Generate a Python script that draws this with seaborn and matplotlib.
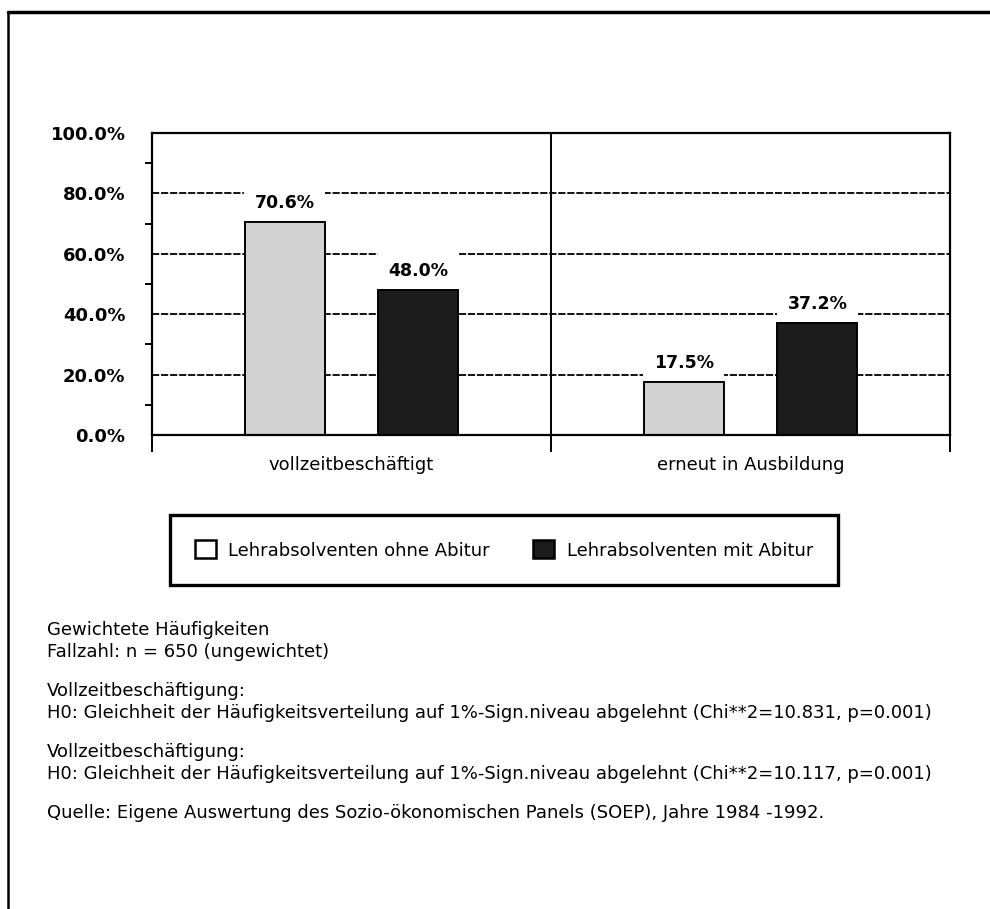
import pandas as pd
import matplotlib.pyplot as plt
import seaborn as sns
from matplotlib.lines import Line2D
from matplotlib.patches import Patch
from matplotlib.ticker import FixedLocator, FuncFormatter

# data
categories = ["vollzeitbeschäftigt", "erneut in Ausbildung"]
groups = ["Lehrabsolventen ohne Abitur", "Lehrabsolventen mit Abitur"]
values_ohne = [70.6, 17.5]
values_mit = [48.0, 37.2]
y_ticks = [0, 20, 40, 60, 80, 100]

notes = [
    "Gewichtete Häufigkeiten",
    "Fallzahl: n = 650 (ungewichtet)",
    "Vollzeitbeschäftigung:",
    "H0: Gleichheit der Häufigkeitsverteilung auf 1%-Sign.niveau abgelehnt (Chi**2=10.831, p=0.001)",
    "Vollzeitbeschäftigung:",
    "H0: Gleichheit der Häufigkeitsverteilung auf 1%-Sign.niveau abgelehnt (Chi**2=10.117, p=0.001)",
    "Quelle: Eigene Auswertung des Sozio-ökonomischen Panels (SOEP), Jahre 1984 -1992.",
]
# pixel rows of the note lines (layout only)
note_rows = [630, 652, 691, 713, 752, 774, 813]

df = pd.DataFrame({
    "Kategorie": categories * 2,
    "Gruppe": [groups[0]] * 2 + [groups[1]] * 2,
    "Anteil": values_ohne + values_mit,
})

sns.set_style("white")
plt.rcParams["font.family"] = ["DejaVu Sans"]
plt.rcParams["text.color"] = "black"
plt.rcParams["xtick.color"] = "black"
plt.rcParams["ytick.color"] = "black"
plt.rcParams["axes.labelcolor"] = "black"

light = "#d2d2d2"
dark = "#1c1c1c"

W, H = 990, 909
fig = plt.figure(figsize=(W / 100, H / 100), dpi=100)
ax = fig.add_axes([152 / W, 1 - 435 / H, (950 - 152) / W, (435 - 133) / H])

sns.barplot(
    data=df,
    x="Kategorie",
    y="Anteil",
    hue="Gruppe",
    palette=[light, dark],
    width=0.67,
    gap=0.4,
    edgecolor="black",
    linewidth=1.4,
    legend=False,
    ax=ax,
)

ax.set_axisbelow(True)
ax.set_ylim(0, 100)
ax.set_xlim(-0.5, 1.5)
ax.set_xlabel("")
ax.set_ylabel("")

ax.yaxis.set_major_locator(FixedLocator(y_ticks))
ax.yaxis.set_minor_locator(FixedLocator([10, 30, 50, 70, 90]))
ax.yaxis.set_major_formatter(FuncFormatter(lambda v, p: f"{v:.1f}%"))
ax.tick_params(axis="y", which="major", length=11, width=1.4, direction="out",
               pad=8, labelsize=13, color="black", labelcolor="black")
ax.tick_params(axis="y", which="minor", length=5, width=1.4, direction="out",
               color="black", left=True)
for lab in ax.get_yticklabels():
    lab.set_fontweight("bold")

ax.xaxis.set_minor_locator(FixedLocator([-0.5, 0.5, 1.5]))
ax.tick_params(axis="x", which="major", length=0, pad=15, labelsize=13,
               labelcolor="black")
ax.tick_params(axis="x", which="minor", length=12, width=1.4, direction="out",
               color="black", bottom=True)

ax.yaxis.grid(True, which="major", color="black", linestyle=(0, (4, 1)),
              linewidth=1.3)
ax.axvline(0.5, color="black", linewidth=1.4)

for s in ax.spines.values():
    s.set_visible(True)
    s.set_color("black")
    s.set_linewidth(1.6)

for cont in ax.containers:
    labels = ax.bar_label(
        cont,
        fmt="%.1f%%",
        padding=7,
        fontsize=12.5,
        fontweight="bold",
        color="black",
        bbox=dict(boxstyle="square,pad=0.6", facecolor="white",
                  edgecolor="none"),
    )
    for t in labels:
        t.set_zorder(0.8)

# legend box
handles = [
    Patch(facecolor="white", edgecolor="black", linewidth=1.8, label=groups[0]),
    Patch(facecolor=dark, edgecolor="black", linewidth=1.8, label=groups[1]),
]
leg = fig.legend(
    handles=handles,
    loc="center",
    bbox_to_anchor=(504 / W, 1 - 550 / H),
    ncol=2,
    frameon=True,
    fancybox=False,
    framealpha=1,
    edgecolor="black",
    fontsize=13,
    handlelength=1.15,
    handleheight=1.15,
    handletextpad=0.7,
    columnspacing=2.4,
    borderpad=1.4,
    borderaxespad=0,
)
leg.get_frame().set_linewidth(2.4)

# notes below
for line, row in zip(notes, note_rows):
    fig.text(47 / W, 1 - row / H, line, fontsize=13, va="center", ha="left",
             color="black")

# outer frame of the page
fig.add_artist(Line2D([8 / W, 8 / W], [0, 1 - 12 / H],
                      color="black", linewidth=1.8))
fig.add_artist(Line2D([8 / W, 1], [1 - 12 / H, 1 - 12 / H],
                      color="black", linewidth=2.5))

fig.savefig("out.png", dpi=100)
